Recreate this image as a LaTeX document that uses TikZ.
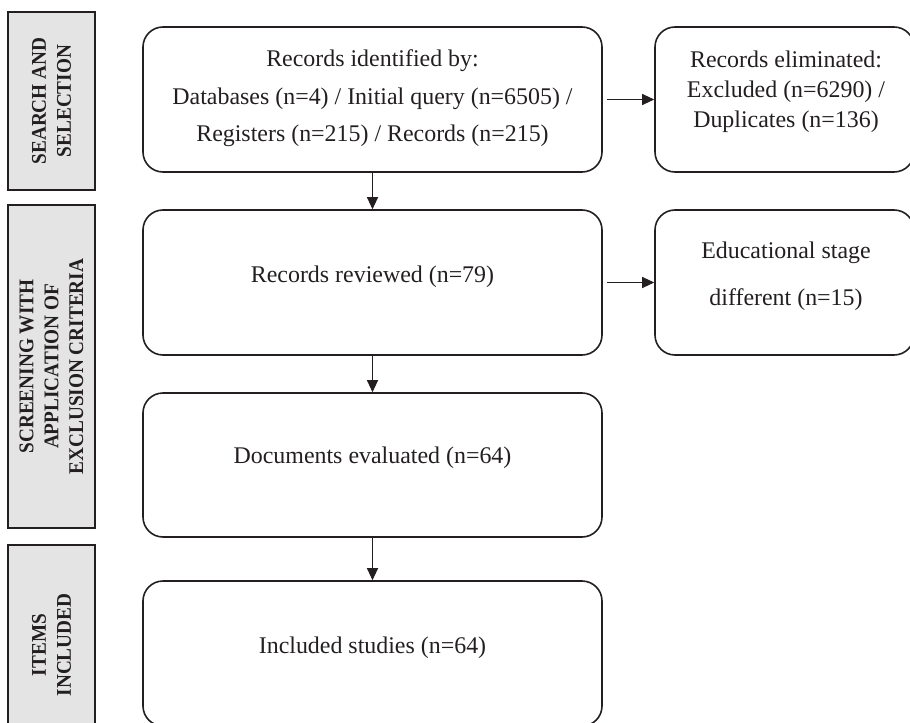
\documentclass[tikz,border=0pt]{standalone}
\usepackage{fontspec}
\setmainfont{Liberation Serif}
\newfontfamily\secfont[FakeStretch=0.92]{Liberation Serif}
\usetikzlibrary{arrows.meta}
\definecolor{ink}{HTML}{231F20}
\definecolor{secfill}{HTML}{E4E4E4}
\begin{document}
\begin{tikzpicture}[x=1bp,y=-1bp,
  flowbox/.style={draw=ink, line width=1.6bp, rounded corners=20bp, minimum width=459bp, minimum height=145bp, inner sep=0pt},
  sidebox/.style={draw=ink, line width=1.6bp, rounded corners=20bp, minimum width=259bp, minimum height=145bp, inner sep=0pt},
  txt/.style={text=ink, font=\fontsize{24}{29}\selectfont, anchor=base, inner sep=0pt},
  sec/.style={draw=ink, fill=secfill, line width=2.2bp, rotate=90, align=center, text=ink, font=\secfont\bfseries\fontsize{21}{25}\selectfont, minimum height=87bp, inner sep=0pt},
  arr/.style={draw=ink, line width=1.1bp, -{Triangle[length=12bp,width=11bp]}}
]
\useasboundingbox (0,0) rectangle (910,723);

% section labels
\node[sec, minimum width=178bp] (s1) at (51.5,101) {SEARCH AND\\SELECTION};
\node[sec, minimum width=323bp] (s2) at (51.5,366.5) {SCREENING WITH\\APPLICATION OF\\EXCLUSION CRITERIA};
\node[sec, minimum width=200bp] (s3) at (51.5,645) {ITEMS\\INCLUDED};

% boxes
\node[flowbox] (A) at (372.5,99.5) {};
\node[flowbox] (B) at (372.5,282.5) {};
\node[flowbox, minimum height=144bp] (C) at (372.5,465) {};
\node[flowbox] (D) at (372.5,653.5) {};
\node[sidebox] (E) at (784.5,99.5) {};
\node[sidebox] (F) at (784.5,282.5) {};

% texts
\node[txt] (tA1) at (372.5,67) {Records identified by:};
\node[txt] (tA2) at (372.5,105) {Databases (n=4) / Initial query (n=6505) /};
\node[txt] (tA3) at (372.5,142) {Registers (n=215) / Records (n=215)};
\node[txt] (tE1) at (786,68) {Records eliminated:};
\node[txt] (tE2) at (786,98) {Excluded (n=6290) /};
\node[txt] (tE3) at (786,128) {Duplicates (n=136)};
\node[txt] (tF1) at (786,258) {Educational stage};
\node[txt] (tF2) at (786,305) {different (n=15)};
\node[txt] (tB) at (372.5,282) {Records reviewed (n=79)};
\node[txt] (tC) at (372.5,463) {Documents evaluated (n=64)};
\node[txt] (tD) at (372.5,653) {Included studies (n=64)};

% connectors
\draw[arr] (A.south) -- (B.north);
\draw[arr] (B.south) -- (C.north);
\draw[arr] (C.south) -- (D.north);
\draw[arr, shorten <=4bp] (A.east) -- (E.west);
\draw[arr, shorten <=4bp] (B.east) -- (F.west);
\end{tikzpicture}
\end{document}
